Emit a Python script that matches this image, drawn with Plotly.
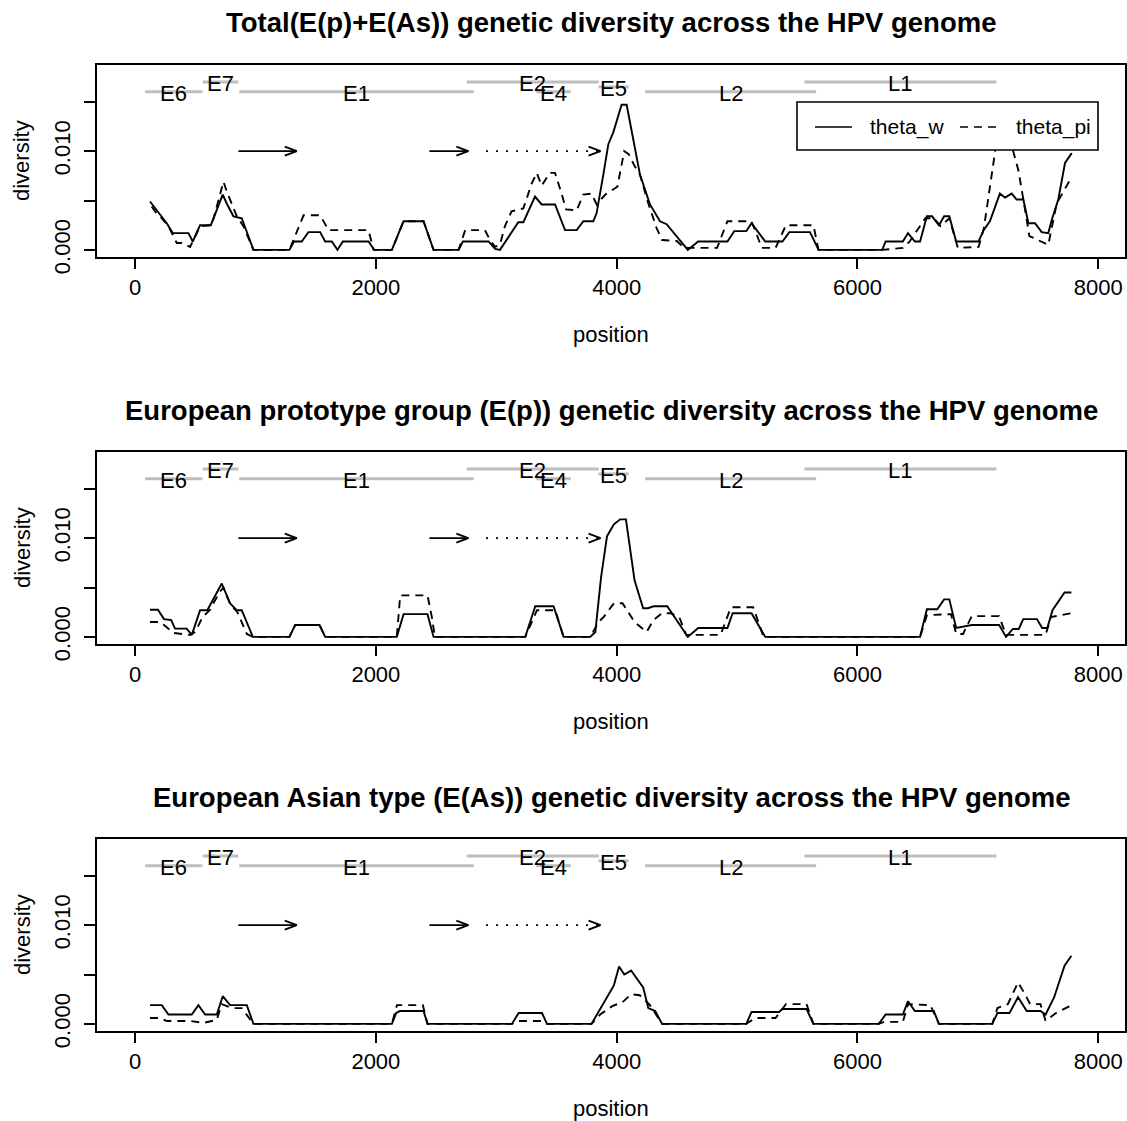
import plotly.graph_objects as go

W, H = 1127, 1121          # target picture size (design coordinates)
FIG_H = 1138               # rendered page height (picture is resized to H afterwards)
FONT = "Liberation Sans"

# ---------------- data ----------------
titles = [
    "Total(E(p)+E(As)) genetic diversity across the HPV genome",
    "European prototype group (E(p)) genetic diversity across the HPV genome",
    "European Asian type (E(As)) genetic diversity across the HPV genome",
]
x_ticks = [0, 2000, 4000, 6000, 8000]
y_ticks = [0.0, 0.005, 0.010, 0.015]
y_ticktext = ["0.000", "", "0.010", ""]
genome_len = 7906
y_max = 0.018

genes = ["E6", "E7", "E1", "E2", "E4", "E5", "L2", "L1"]
gene_start = [83, 562, 865, 2755, 3332, 3849, 4236, 5560]
gene_end = [559, 858, 2813, 3852, 3619, 4100, 5657, 7155]
gene_level = [0.016, 0.017, 0.016, 0.017, 0.016, 0.0165, 0.016, 0.017]

arrow_start = [858, 2445, 2915]
arrow_end = [1343, 2768, 3866]
arrow_level = 0.010
arrow_dotted = [False, False, True]

# theta_w (solid) and theta_pi (dashed), (position, diversity)
total_w = [(124,0.0049),(263,0.0027),(313,0.0017),(443,0.0017),(479,0.00085),(540,0.0025),(629,0.0025),(678,0.0040),
           (728,0.0056),(761,0.0047),(817,0.0034),(886,0.0032),(983,0),(1282,0),(1320,0.00085),(1384,0.00085),
           (1440,0.0018),(1537,0.0018),(1579,0.00085),(1634,0.00085),(1681,0),(1726,0.00085),(1939,0.00085),
           (1986,0),(2133,0),(2230,0.0029),(2396,0.0029),(2479,0),(2687,0),(2723,0.00085),(2936,0.00085),
           (2990,0.0001),(3031,0),(3183,0.0028),(3225,0.0028),(3322,0.0054),(3377,0.0046),(3488,0.0046),
           (3571,0.0020),(3668,0.0020),(3723,0.0029),(3806,0.0029),(3833,0.0037),(3889,0.0076),(3931,0.0107),
           (3972,0.0119),(4041,0.0147),(4083,0.0147),(4138,0.0110),(4194,0.0076),(4277,0.0046),(4360,0.0029),
           (4415,0.0026),(4591,0),(4677,0.00085),(4920,0.00085),(4977,0.0019),(5077,0.0019),(5120,0.0027),
           (5234,0.00085),(5377,0.00085),(5434,0.0018),(5606,0.0018),(5677,0),(6206,0),(6234,0.00085),
           (6377,0.00085),(6420,0.0017),(6477,0.00085),(6520,0.00085),(6577,0.0034),(6620,0.0034),(6677,0.0025),
           (6720,0.0034),(6763,0.0034),(6820,0.00085),(7006,0.00085),(7048,0.0020),(7100,0.0029),(7183,0.0057),
           (7225,0.0053),(7281,0.0057),(7322,0.0051),(7378,0.0051),(7420,0.0027),(7475,0.0027),(7530,0.0018),
           (7585,0.0017),(7613,0.0030),(7668,0.0051),(7724,0.0088),(7780,0.0098)]
total_pi = [(138,0.0044),(166,0.0039),(222,0.0032),(277,0.0024),(346,0.0007),(388,0.0007),(457,0.0003),(540,0.0024),
            (637,0.0025),(734,0.0069),(762,0.0059),(845,0.0034),(900,0.0024),(983,0),(1282,0),(1316,0.0010),
            (1399,0.0035),(1537,0.0035),(1607,0.0020),(1939,0.0020),(1981,0),(2133,0),(2230,0.0029),(2396,0.0029),
            (2479,0),(2687,0),(2742,0.0020),(2906,0.0020),(2948,0.0010),(2990,0.0003),(3030,0.0005),(3072,0.0024),
            (3127,0.0039),(3225,0.0042),(3294,0.0067),(3336,0.0078),(3377,0.0065),(3446,0.0078),(3488,0.0078),
            (3540,0.0058),(3580,0.0041),(3668,0.0040),(3723,0.0056),(3792,0.0057),(3834,0.0046),(3906,0.0056),
            (4006,0.0064),(4063,0.0100),(4100,0.0097),(4149,0.0085),(4194,0.0076),(4263,0.0047),(4332,0.0022),
            (4377,0.0010),(4500,0.0009),(4560,0.0002),(4834,0.0002),(4920,0.0029),(5120,0.0029),(5206,0.0002),
            (5320,0.0002),(5406,0.0025),(5634,0.0025),(5677,0),(6206,0),(6377,0.0002),(6434,0.00085),(6563,0.0032),
            (6634,0.0032),(6691,0.0024),(6763,0.0032),(6834,0.0002),(7006,0.0003),(7050,0.0022),(7110,0.0070),
            (7150,0.0105),(7180,0.0118),(7230,0.0116),(7280,0.0106),(7336,0.0081),(7378,0.0051),(7428,0.0014),
            (7516,0.0009),(7585,0.0005),(7655,0.0047),(7766,0.0071)]

ep_w = [(124,0.00275),(190,0.00275),(240,0.0018),(300,0.0017),(332,0.00084),(429,0.00084),(471,0.0002),(510,0.0015),
        (540,0.0027),(600,0.0027),(720,0.0054),(789,0.0034),(844,0.0027),(886,0.0027),(978,0),(1282,0),(1330,0.0012),
        (1532,0.0012),(1579,0),(2174,0),(2230,0.0023),(2429,0.0023),(2479,0),(3241,0),(3324,0.0031),(3476,0.0031),
        (3559,0),(3781,0),(3823,0.0005),(3870,0.0060),(3920,0.0102),(3977,0.0114),(4029,0.0119),(4077,0.0119),
        (4149,0.0057),(4220,0.0029),(4260,0.0029),(4306,0.0031),(4420,0.0031),(4591,0),(4677,0.0009),(4920,0.0009),
        (4963,0.0024),(5120,0.0024),(5234,0),(6520,0),(6577,0.0028),(6663,0.0028),(6720,0.0038),(6763,0.0038),
        (6820,0.0009),(6949,0.0012),(7177,0.0012),(7234,0),(7291,0.0008),(7340,0.0008),(7377,0.0018),(7491,0.0018),
        (7534,0.0009),(7577,0.0009),(7620,0.0027),(7720,0.0045),(7777,0.0045)]
ep_pi = [(124,0.0015),(210,0.0015),(240,0.0012),(280,0.0008),(320,0.0004),(457,0.0002),(500,0.0005),(560,0.0020),
         (620,0.0027),(700,0.0045),(734,0.0050),(790,0.0033),(850,0.0025),(928,0.0003),(978,0),(1282,0),(1330,0.0012),
         (1532,0.0012),(1579,0),(2174,0),(2202,0.0042),(2429,0.0042),(2465,0.0020),(2490,0),(3241,0),(3338,0.0027),
         (3490,0.0027),(3559,0),(3781,0),(3849,0.0015),(3891,0.0020),(3977,0.0034),(4049,0.0034),(4149,0.0015),
         (4249,0.0005),(4306,0.0017),(4377,0.0024),(4449,0.0024),(4520,0.0020),(4577,0.0002),(4863,0.0002),
         (4949,0.0030),(5134,0.0030),(5220,0),(6520,0),(6577,0.0022),(6777,0.0023),(6820,0.0003),(6877,0.0003),
         (6949,0.0021),(7177,0.0021),(7234,0.0002),(7563,0.0002),(7606,0.0020),(7777,0.0024)]

eas_w = [(124,0.0019),(222,0.0019),(277,0.00095),(471,0.00095),(526,0.0019),(582,0.00095),(679,0.00095),(728,0.0028),
         (789,0.0019),(928,0.0019),(983,0),(2133,0),(2169,0.0011),(2200,0.0013),(2396,0.0013),(2429,0),(3130,0),
         (3186,0.0011),(3380,0.0011),(3421,0),(3791,0),(3977,0.0039),(4020,0.0058),(4063,0.0050),(4120,0.0054),
         (4220,0.0037),(4263,0.0016),(4320,0.0013),(4377,0),(5077,0),(5120,0.0012),(5349,0.0012),(5377,0.0015),
         (5577,0.0015),(5634,0),(6177,0),(6234,0.00095),(6377,0.00095),(6420,0.0023),(6477,0.0013),(6634,0.0013),
         (6677,0),(7120,0),(7163,0.0011),(7263,0.0011),(7334,0.0027),(7406,0.0013),(7520,0.0013),(7563,0.00095),
         (7634,0.0027),(7720,0.0059),(7777,0.0069)]
eas_pi = [(124,0.0006),(210,0.0006),(262,0.0003),(457,0.0003),(567,0.0001),(678,0.0004),(720,0.0020),(803,0.0016),
          (886,0.0016),(983,0),(2133,0),(2175,0.0019),(2390,0.0019),(2429,0),(3130,0),(3186,0.0003),(3380,0.0003),
          (3421,0),(3791,0),(3863,0.00095),(3963,0.0018),(4049,0.0022),(4120,0.0030),(4191,0.0029),(4277,0.0019),
          (4377,0),(5077,0),(5149,0.0006),(5320,0.0006),(5406,0.0020),(5577,0.0020),(5634,0),(6177,0),(6220,0.0002),
          (6377,0.0002),(6420,0.0020),(6606,0.0019),(6677,0),(7120,0),(7163,0.0016),(7249,0.0020),(7334,0.0042),
          (7392,0.0030),(7434,0.0020),(7520,0.0020),(7563,0.0003),(7649,0.0011),(7763,0.0018)]

panels_w = [total_w, ep_w, eas_w]
panels_pi = [total_pi, ep_pi, eas_pi]

# ---------------- layout geometry (design pixels) ----------------
BOX_L, BOX_R = 97, 1125
BOX_TOPS = [65, 452, 839]
BOX_H = 192

xr = [-0.04 * genome_len, 1.04 * genome_len]
yr = [-0.04 * y_max, 1.04 * y_max]
px_per_x = (BOX_R - BOX_L) / (xr[1] - xr[0])
px_per_y = BOX_H * FIG_H / H / (yr[1] - yr[0])

fig = go.Figure()
annotations = []
shapes = []

def fx(px):
    return px / W

def fy(py):
    return 1 - py / H

for i in range(3):
    xa = "x" if i == 0 else f"x{i+1}"
    ya = "y" if i == 0 else f"y{i+1}"
    top = BOX_TOPS[i]
    # gene bars
    gx, gy = [], []
    for s, e, l in zip(gene_start, gene_end, gene_level):
        gx += [s, e, None]
        gy += [l, l, None]
    fig.add_trace(go.Scatter(x=gx, y=gy, mode="lines", line=dict(color="#bebebe", width=3),
                             xaxis=xa, yaxis=ya, showlegend=False, hoverinfo="skip"))
    for g, s, e, l in zip(genes, gene_start, gene_end, gene_level):
        annotations.append(dict(text=g, x=(s + e) / 2, y=l, xref=xa, yref=ya, showarrow=False,
                                xanchor="center", yanchor="middle", yshift=-2,
                                font=dict(family=FONT, size=22, color="black")))
    # arrows
    hl = 12 / px_per_x
    hh = 4.5 / px_per_y
    for s, e, dotted in zip(arrow_start, arrow_end, arrow_dotted):
        fig.add_trace(go.Scatter(x=[s, e], y=[arrow_level, arrow_level], mode="lines",
                                 line=dict(color="black", width=1.9, dash="2px,8px" if dotted else "solid"),
                                 xaxis=xa, yaxis=ya, showlegend=False, hoverinfo="skip"))
        fig.add_trace(go.Scatter(x=[e - hl, e, e - hl], y=[arrow_level + hh, arrow_level, arrow_level - hh],
                                 mode="lines", line=dict(color="black", width=1.9),
                                 xaxis=xa, yaxis=ya, showlegend=False, hoverinfo="skip"))
    # data series
    wx, wy = zip(*panels_w[i])
    px_, py_ = zip(*panels_pi[i])
    fig.add_trace(go.Scatter(x=list(wx), y=list(wy), mode="lines", name="theta_w",
                             line=dict(color="black", width=1.9), xaxis=xa, yaxis=ya, showlegend=False))
    fig.add_trace(go.Scatter(x=list(px_), y=list(py_), mode="lines", name="theta_pi",
                             line=dict(color="black", width=1.9, dash="8px,6px"),
                             xaxis=xa, yaxis=ya, showlegend=False))

    dom_y = [fy(top + BOX_H), fy(top)]
    axis_common = dict(showgrid=False, zeroline=False, showline=True, mirror=True, linecolor="black",
                       linewidth=1.6, ticks="outside", tickcolor="black", tickwidth=1.6,
                       tickfont=dict(family=FONT, size=22, color="black"))
    xkey = "xaxis" if i == 0 else f"xaxis{i+1}"
    ykey = "yaxis" if i == 0 else f"yaxis{i+1}"
    fig.update_layout(**{
        xkey: dict(domain=[fx(BOX_L), fx(BOX_R)], range=xr, anchor=ya, tickvals=x_ticks,
                   ticktext=[str(v) for v in x_ticks], ticklen=10, ticklabelstandoff=0, **axis_common),
        ykey: dict(domain=dom_y, range=yr, anchor=xa, tickvals=y_ticks, ticktext=y_ticktext,
                   ticklen=11, tickangle=-90, ticklabelstandoff=5, **axis_common),
    })
    # titles and axis labels
    annotations.append(dict(text="<b>" + titles[i] + "</b>", x=fx((BOX_L + BOX_R) / 2), y=fy(top - 42),
                            xref="paper", yref="paper", showarrow=False, xanchor="center", yanchor="middle",
                            font=dict(family=FONT, size=27.5, color="black")))
    annotations.append(dict(text="position", x=fx((BOX_L + BOX_R) / 2), y=fy(top + BOX_H + 77),
                            xref="paper", yref="paper", showarrow=False, xanchor="center", yanchor="middle",
                            font=dict(family=FONT, size=22, color="black")))
    annotations.append(dict(text="diversity", x=fx(22), y=fy(top + BOX_H / 2), textangle=-90,
                            xref="paper", yref="paper", showarrow=False, xanchor="center", yanchor="middle",
                            font=dict(family=FONT, size=22, color="black")))

# legend (panel 1)
shapes.append(dict(type="rect", xref="paper", yref="paper", x0=fx(797), x1=fx(1098), y0=fy(150), y1=fy(102),
                   line=dict(color="black", width=1.6), fillcolor="white", layer="above"))
shapes.append(dict(type="line", xref="paper", yref="paper", x0=fx(815), x1=fx(852), y0=fy(127), y1=fy(127),
                   line=dict(color="black", width=1.7), layer="above"))
shapes.append(dict(type="line", xref="paper", yref="paper", x0=fx(960), x1=fx(997), y0=fy(127), y1=fy(127),
                   line=dict(color="black", width=1.7, dash="8px,6px"), layer="above"))
for txt, xp in [("theta_w", 868), ("theta_pi", 1014)]:
    annotations.append(dict(text=txt, x=fx(xp), y=fy(127), xref="paper", yref="paper", showarrow=False,
                            xanchor="left", yanchor="middle", font=dict(family=FONT, size=21, color="black")))

fig.update_layout(width=W, height=FIG_H, margin=dict(l=0, r=0, t=0, b=0), paper_bgcolor="white",
                  plot_bgcolor="white", showlegend=False, annotations=annotations, shapes=shapes)

page_fix = ("document.body.style.margin='0px';document.body.style.overflow='hidden';"
            "document.documentElement.style.overflow='hidden';")
fig.write_html("out.html", config={"displayModeBar": False}, post_script=page_fix)
